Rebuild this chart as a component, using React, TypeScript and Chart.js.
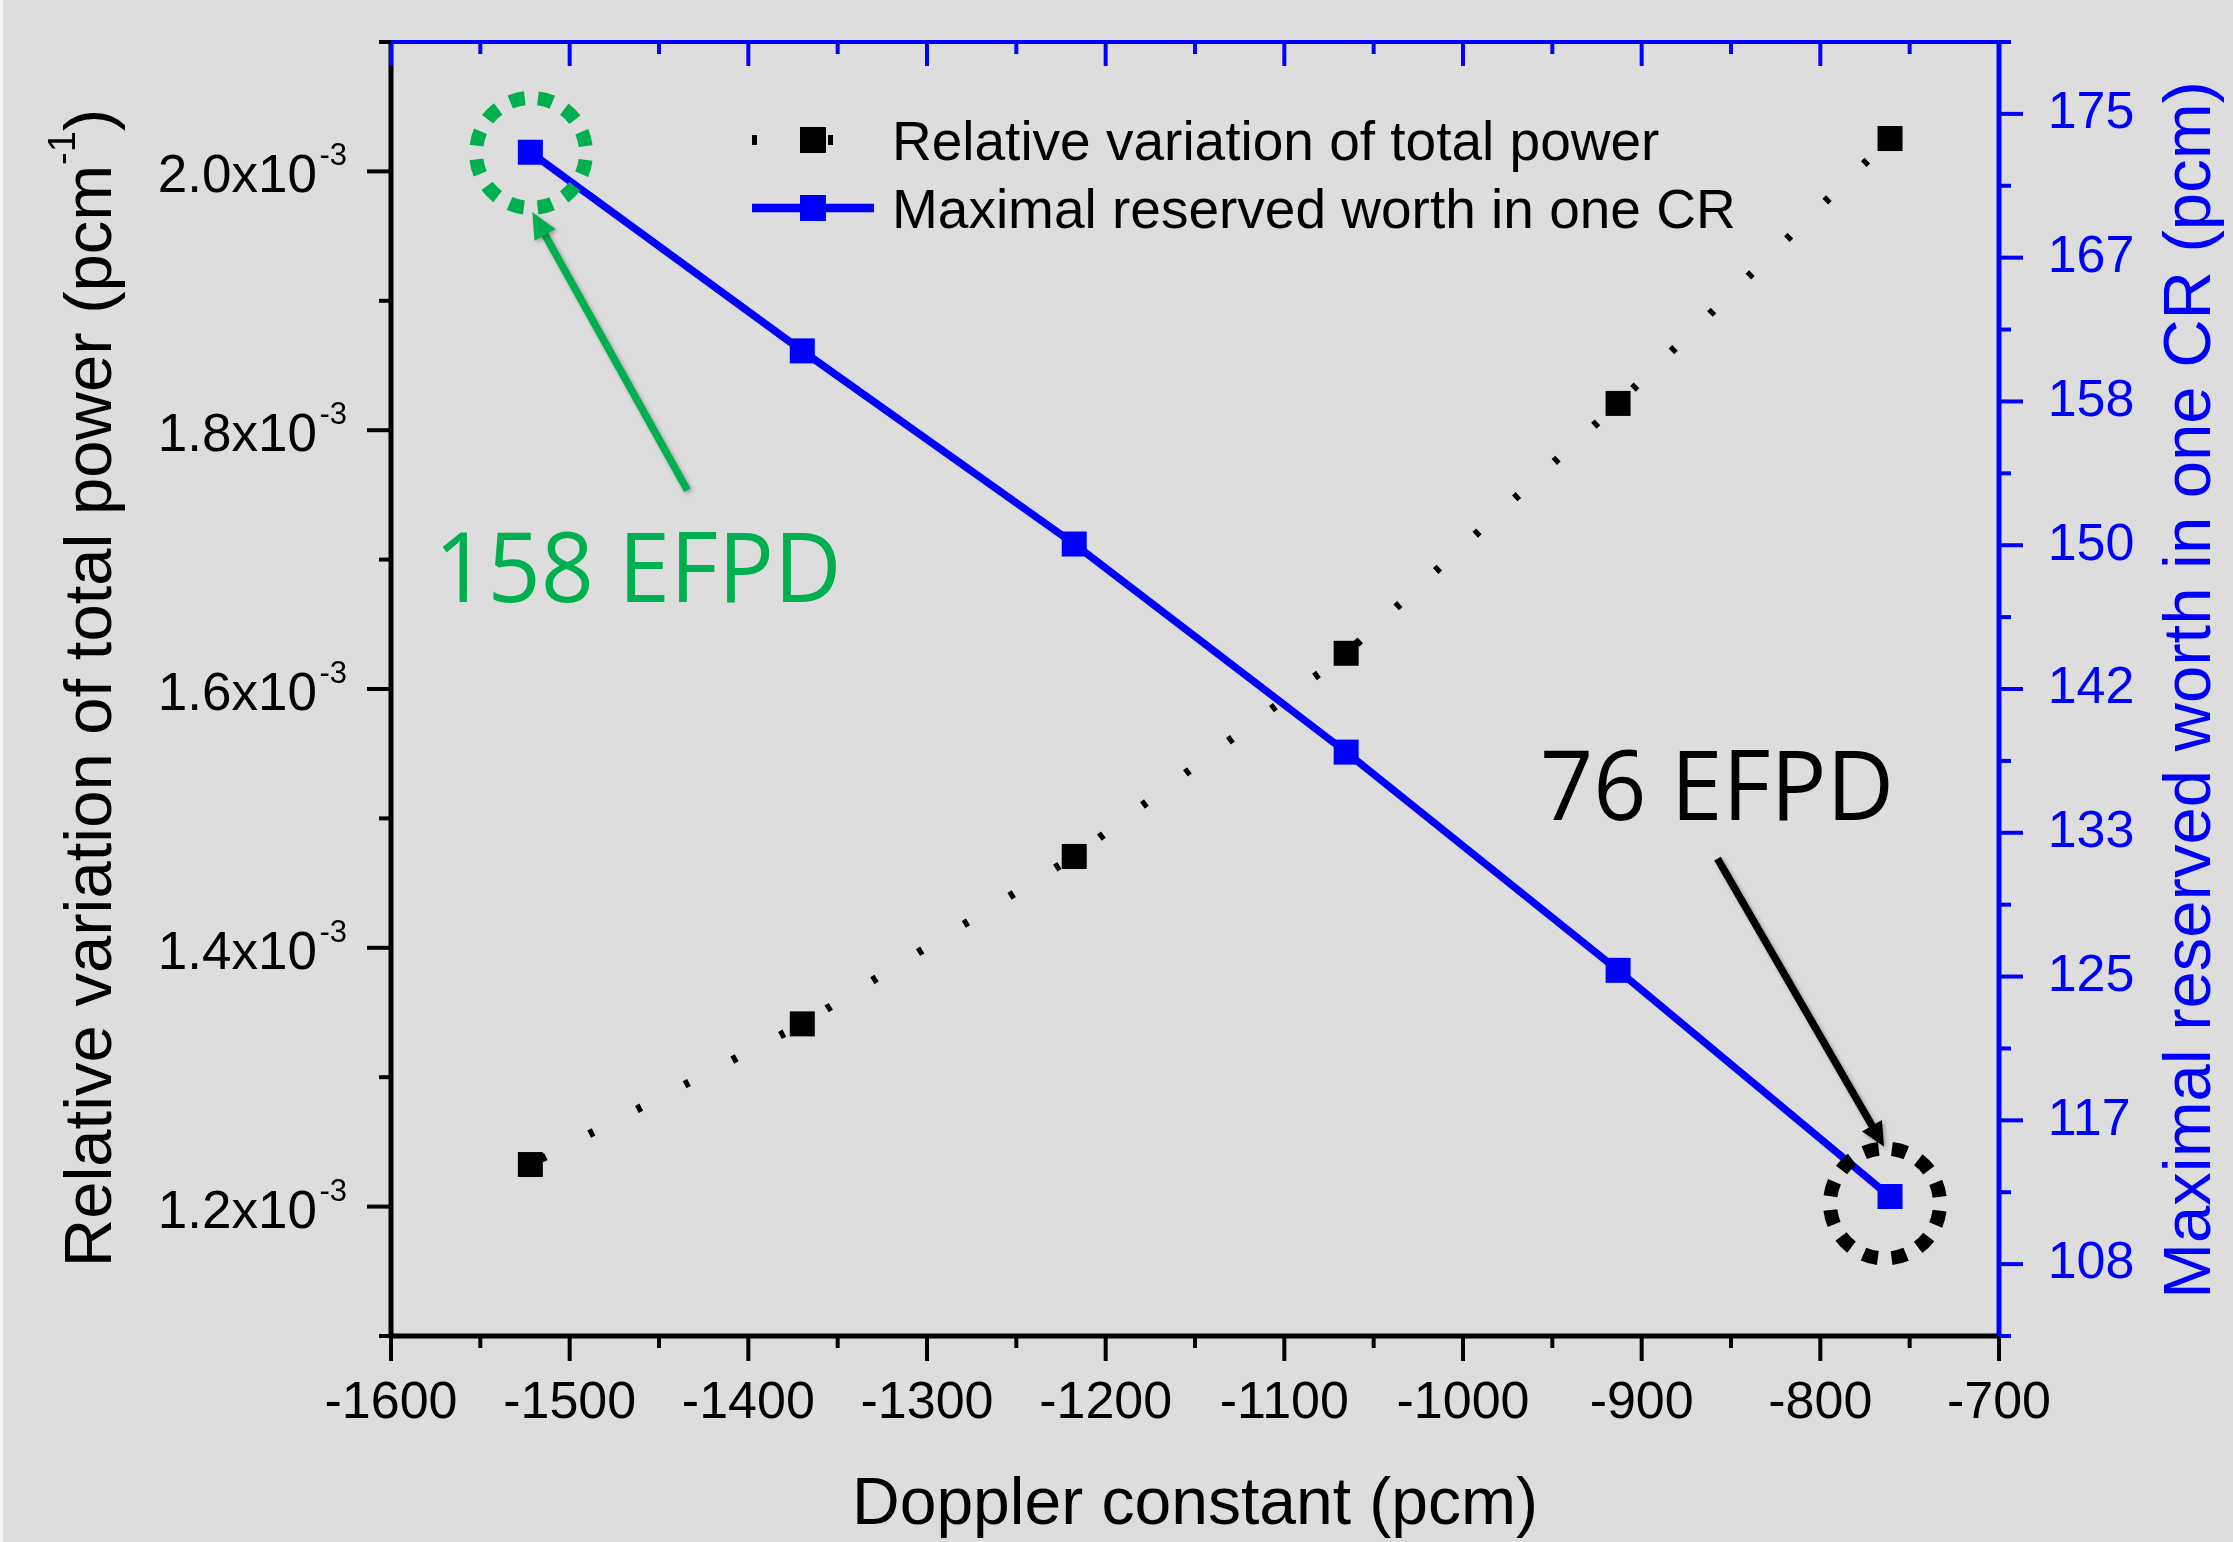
import React, { useEffect, useRef } from 'react';
import { Chart, registerables } from 'chart.js';

Chart.register(...registerables);

// ---------------- data ----------------
const dopplerConstant = [-1522, -1369.8, -1217.6, -1065.4, -913.2, -761];
const relativePowerVariation = [1.2325e-3, 1.3412e-3, 1.4706e-3, 1.6276e-3, 1.8207e-3, 2.0254e-3];
const maxReservedWorth = [172.87, 161.32, 150.09, 137.99, 125.3, 112.15];

const seriesPowerLabel = 'Relative variation of total power';
const seriesWorthLabel = 'Maximal reserved worth in one CR';
const xAxisTitle = 'Doppler constant (pcm)';
const leftAxisTitleMain = 'Relative variation of total power (pcm';
const leftAxisTitleSup = '-1';
const leftAxisTitleEnd = ')';
const rightAxisTitle = 'Maximal reserved worth in one CR (pcm)';
const annotationFirst = '158 EFPD';
const annotationLast = '76 EFPD';

const xMajorTicks = [-1600, -1500, -1400, -1300, -1200, -1100, -1000, -900, -800, -700];
const xTickLabels = ['-1600', '-1500', '-1400', '-1300', '-1200', '-1100', '-1000', '-900', '-800', '-700'];
const xMinorTicks = [-1550, -1450, -1350, -1250, -1150, -1050, -950, -850, -750];

const leftMajorTicks = [1.2e-3, 1.4e-3, 1.6e-3, 1.8e-3, 2.0e-3];
const leftTickMantissas = ['1.2', '1.4', '1.6', '1.8', '2.0'];
const leftTickExponent = '-3';
const leftMinorTicks = [1.1e-3, 1.3e-3, 1.5e-3, 1.7e-3, 1.9e-3, 2.1e-3];

const rightMajorTicks = [108.22, 116.58, 124.94, 133.3, 141.66, 150.02, 158.38, 166.74, 175.1];
const rightTickLabels = ['108', '117', '125', '133', '142', '150', '158', '167', '175'];
const rightMinorTicks = [104.04, 112.4, 120.76, 129.12, 137.48, 145.84, 154.2, 162.56, 170.92, 179.28];

// ---------------- styles ----------------
const FONT = '"Liberation Sans", Arial, Helvetica, sans-serif';
const ANNOT_FONT = '"Open Sans", "Noto Sans", sans-serif';
const BG = '#dddddd';
const BLUE = '#0000ff';
const GREEN = '#00b050';

function strokeLine(ctx: CanvasRenderingContext2D, x0: number, y0: number, x1: number, y1: number, color: string, w: number) {
  ctx.strokeStyle = color;
  ctx.lineWidth = w;
  ctx.beginPath();
  ctx.moveTo(x0, y0);
  ctx.lineTo(x1, y1);
  ctx.stroke();
}

function dottedCircle(ctx: CanvasRenderingContext2D, cx: number, cy: number, r: number, color: string, lw: number, n: number) {
  const period = (2 * Math.PI * r) / n;
  const dash = period * 0.52;
  const gap = period - dash;
  const a0 = -Math.PI / 2 + gap / 2 / r;
  ctx.save();
  ctx.strokeStyle = color;
  ctx.lineWidth = lw;
  ctx.lineCap = 'butt';
  ctx.setLineDash([dash, gap]);
  ctx.beginPath();
  ctx.arc(cx, cy, r, a0, a0 + 2 * Math.PI);
  ctx.stroke();
  ctx.restore();
}

function arrow(ctx: CanvasRenderingContext2D, x0: number, y0: number, x1: number, y1: number, color: string, lw: number, hl: number, hw: number) {
  const dx = x1 - x0;
  const dy = y1 - y0;
  const L = Math.hypot(dx, dy);
  const ux = dx / L;
  const uy = dy / L;
  const bx = x1 - ux * hl;
  const by = y1 - uy * hl;
  ctx.save();
  ctx.shadowColor = 'rgba(0,0,0,0.3)';
  ctx.shadowBlur = 4;
  ctx.shadowOffsetX = 2;
  ctx.shadowOffsetY = 2;
  ctx.setLineDash([]);
  ctx.lineCap = 'butt';
  ctx.strokeStyle = color;
  ctx.lineWidth = lw;
  ctx.beginPath();
  ctx.moveTo(x0, y0);
  ctx.lineTo(bx + ux * 2, by + uy * 2);
  ctx.stroke();
  ctx.fillStyle = color;
  ctx.beginPath();
  ctx.moveTo(x1, y1);
  ctx.lineTo(bx - uy * hw, by + ux * hw);
  ctx.lineTo(bx + uy * hw, by - ux * hw);
  ctx.closePath();
  ctx.fill();
  ctx.restore();
}

const decorPlugin = {
  id: 'decor',
  beforeDraw(chart: any) {
    const { ctx, width, height } = chart;
    ctx.save();
    ctx.fillStyle = BG;
    ctx.fillRect(0, 0, width, height);
    ctx.fillStyle = '#f3f3f3';
    ctx.fillRect(0, 0, 3, height);
    ctx.restore();
  },
  afterDraw(chart: any) {
    const ctx: CanvasRenderingContext2D = chart.ctx;
    const { left, right, top, bottom } = chart.chartArea;
    const xs = chart.scales.x;
    const yl = chart.scales.y;
    const yr = chart.scales.y2;
    ctx.save();
    ctx.lineCap = 'butt';
    ctx.setLineDash([]);

    // axis lines
    strokeLine(ctx, left, top - 2, left, bottom + 2, '#000', 5);
    strokeLine(ctx, left, bottom, right, bottom, '#000', 5);
    strokeLine(ctx, left, top, right + 2, top, BLUE, 4);
    strokeLine(ctx, right, top - 2, right, bottom + 2, BLUE, 5);

    // ticks
    xMajorTicks.forEach((v) => {
      const x = xs.getPixelForValue(v);
      strokeLine(ctx, x, bottom, x, bottom + 25, '#000', 4);
      strokeLine(ctx, x, top, x, top + 24, BLUE, 4);
    });
    xMinorTicks.forEach((v) => {
      const x = xs.getPixelForValue(v);
      strokeLine(ctx, x, bottom, x, bottom + 12, '#000', 4);
      strokeLine(ctx, x, top, x, top + 12, BLUE, 4);
    });
    leftMajorTicks.forEach((v) => {
      const y = yl.getPixelForValue(v);
      strokeLine(ctx, left - 24, y, left, y, '#000', 4);
    });
    leftMinorTicks.forEach((v) => {
      const y = yl.getPixelForValue(v);
      strokeLine(ctx, left - 12, y, left, y, '#000', 4);
    });
    rightMajorTicks.forEach((v) => {
      const y = yr.getPixelForValue(v);
      strokeLine(ctx, right, y, right + 24, y, BLUE, 4);
    });
    rightMinorTicks.forEach((v) => {
      const y = yr.getPixelForValue(v);
      strokeLine(ctx, right, y, right + 12, y, BLUE, 4);
    });

    // left tick labels with superscript exponent
    ctx.fillStyle = '#000';
    ctx.textBaseline = 'alphabetic';
    leftMajorTicks.forEach((v, i) => {
      const y = yl.getPixelForValue(v);
      ctx.font = `53px ${FONT}`;
      ctx.textAlign = 'right';
      ctx.fillText(leftTickMantissas[i] + 'x10', left - 74, y + 21);
      ctx.font = `31px ${FONT}`;
      ctx.textAlign = 'left';
      ctx.fillText(leftTickExponent, left - 71.5, y - 6);
    });

    // left axis title (rotated, with superscript)
    ctx.save();
    ctx.translate(111, (top + bottom) / 2 - 1);
    ctx.rotate(-Math.PI / 2);
    ctx.fillStyle = '#000';
    ctx.textAlign = 'left';
    ctx.font = `67px ${FONT}`;
    const w1 = ctx.measureText(leftAxisTitleMain).width;
    const w3 = ctx.measureText(leftAxisTitleEnd).width;
    ctx.font = `38px ${FONT}`;
    const w2 = ctx.measureText(leftAxisTitleSup).width;
    const x0 = -(w1 + w2 + w3) / 2;
    ctx.font = `67px ${FONT}`;
    ctx.fillText(leftAxisTitleMain, x0, 0);
    ctx.fillText(leftAxisTitleEnd, x0 + w1 + w2, 0);
    ctx.font = `38px ${FONT}`;
    ctx.fillText(leftAxisTitleSup, x0 + w1, -36);
    ctx.restore();

    // right axis title (rotated, reading upward)
    ctx.save();
    ctx.translate(2210, (top + bottom) / 2 + 1);
    ctx.rotate(-Math.PI / 2);
    ctx.fillStyle = BLUE;
    ctx.textAlign = 'center';
    ctx.textBaseline = 'alphabetic';
    ctx.font = `67px ${FONT}`;
    ctx.fillText(rightAxisTitle, 0, 0);
    ctx.restore();

    // legend
    const ds0 = chart.data.datasets[0];
    const ds1 = chart.data.datasets[1];
    const symX0 = 752;
    const symX1 = 874;
    const symC = 813;
    const textX = 892;
    const row1 = 140;
    const row2 = 208;
    ctx.save();
    ctx.setLineDash([5, 71]);
    strokeLine(ctx, symX0, row1, symX1, row1, ds0.borderColor, 10);
    ctx.setLineDash([]);
    ctx.fillStyle = ds0.pointBackgroundColor;
    ctx.fillRect(symC - 13, row1 - 13, 26, 26);
    strokeLine(ctx, symX0, row2, symX1, row2, ds1.borderColor, 8.5);
    ctx.fillStyle = ds1.pointBackgroundColor;
    ctx.fillRect(symC - 13, row2 - 13, 26, 26);
    ctx.fillStyle = '#000';
    ctx.font = `55px ${FONT}`;
    ctx.textAlign = 'left';
    ctx.textBaseline = 'alphabetic';
    ctx.fillText(ds0.label, textX, row1 + 20);
    ctx.fillText(ds1.label, textX, row2 + 20);
    ctx.restore();

    // annotations anchored to first/last blue points
    const meta = chart.getDatasetMeta(1);
    const p1 = meta.data[0];
    const p6 = meta.data[meta.data.length - 1];

    dottedCircle(ctx, p1.x + 0.7, p1.y + 0.7, 55, GREEN, 14, 12);
    arrow(ctx, p1.x + 157, p1.y + 338, p1.x + 2, p1.y + 60, GREEN, 7.5, 26, 12);
    ctx.save();
    ctx.fillStyle = GREEN;
    ctx.font = `97px ${ANNOT_FONT}`;
    ctx.textAlign = 'left';
    ctx.textBaseline = 'alphabetic';
    ctx.translate(p1.x - 96, p1.y + 450);
    ctx.scale(0.96, 1);
    ctx.fillText(annotationFirst, 0, 0);
    ctx.restore();

    dottedCircle(ctx, p6.x - 5, p6.y + 7, 55, '#000', 14, 12);
    arrow(ctx, p6.x - 172.5, p6.y - 338, p6.x - 6, p6.y - 50, '#000', 7.5, 24, 11.5);
    ctx.save();
    ctx.fillStyle = '#000';
    ctx.font = `97px ${ANNOT_FONT}`;
    ctx.textAlign = 'left';
    ctx.textBaseline = 'alphabetic';
    ctx.translate(p6.x - 350, p6.y - 377);
    ctx.scale(0.96, 1);
    ctx.fillText(annotationLast, 0, 0);
    ctx.restore();

    ctx.restore();
  },
};

export default function App() {
  const ref = useRef<HTMLCanvasElement>(null);

  useEffect(() => {
    const canvas = ref.current;
    if (!canvas) return;
    const chart = new Chart(canvas, {
      type: 'line',
      data: {
        datasets: [
          {
            label: seriesPowerLabel,
            data: dopplerConstant.map((x, i) => ({ x, y: relativePowerVariation[i] })),
            xAxisID: 'x',
            yAxisID: 'y',
            borderColor: '#000000',
            borderWidth: 8,
            borderDash: [5, 48.7],
            borderDashOffset: 41.2,
            pointStyle: 'rect',
            pointRadius: 17.68,
            pointBackgroundColor: '#000000',
            pointBorderWidth: 0,
            fill: false,
            order: 2,
          },
          {
            label: seriesWorthLabel,
            data: dopplerConstant.map((x, i) => ({ x, y: maxReservedWorth[i] })),
            xAxisID: 'x',
            yAxisID: 'y2',
            borderColor: BLUE,
            borderWidth: 7.5,
            pointStyle: 'rect',
            pointRadius: 17.68,
            pointBackgroundColor: BLUE,
            pointBorderWidth: 0,
            fill: false,
            order: 1,
          },
        ],
      },
      options: {
        responsive: false,
        animation: false,
        devicePixelRatio: 1,
        events: [],
        layout: { padding: { left: 391, top: 42, right: 0, bottom: 0 } },
        plugins: {
          legend: { display: false },
          tooltip: { enabled: false },
          title: { display: false },
        },
        scales: {
          x: {
            type: 'linear',
            position: 'bottom',
            min: -1600,
            max: -700,
            grid: { display: false, drawTicks: false, tickLength: 0 },
            border: { display: false },
            afterBuildTicks: (s: any) => {
              s.ticks = xMajorTicks.map((v) => ({ value: v }));
            },
            afterFit: (s: any) => {
              s.height = 206;
              s.paddingLeft = 0;
              s.paddingRight = 0;
            },
            ticks: {
              autoSkip: false,
              maxRotation: 0,
              minRotation: 0,
              padding: 36,
              color: '#000000',
              font: { family: FONT, size: 52 },
              callback: (_v: any, i: number) => xTickLabels[i],
            },
            title: {
              display: true,
              text: xAxisTitle,
              color: '#000000',
              font: { family: FONT, size: 66, lineHeight: 1.1 },
              padding: { top: 0, bottom: 0 },
            },
          },
          y: {
            type: 'linear',
            position: 'left',
            display: false,
            min: 1.1e-3,
            max: 2.1e-3,
            afterFit: (s: any) => {
              s.paddingTop = 0;
              s.paddingBottom = 0;
            },
          },
          y2: {
            type: 'linear',
            position: 'right',
            min: 104.04,
            max: 179.28,
            grid: { display: false, drawTicks: false, tickLength: 0 },
            border: { display: false },
            afterBuildTicks: (s: any) => {
              s.ticks = rightMajorTicks.map((v) => ({ value: v }));
            },
            afterFit: (s: any) => {
              s.width = 234;
              s.paddingTop = 0;
              s.paddingBottom = 0;
            },
            ticks: {
              autoSkip: false,
              padding: 48.7,
              color: BLUE,
              font: { family: FONT, size: 52 },
              callback: (_v: any, i: number) => rightTickLabels[i],
            },
          },
        },
      } as any,
      plugins: [decorPlugin],
    });
    return () => chart.destroy();
  }, []);

  return (
    <div style={{ position: 'absolute', left: 0, top: 0, width: 2233, height: 1542 }}>
      <canvas ref={ref} width={2233} height={1542} style={{ display: 'block', width: 2233, height: 1542 }} />
    </div>
  );
}
